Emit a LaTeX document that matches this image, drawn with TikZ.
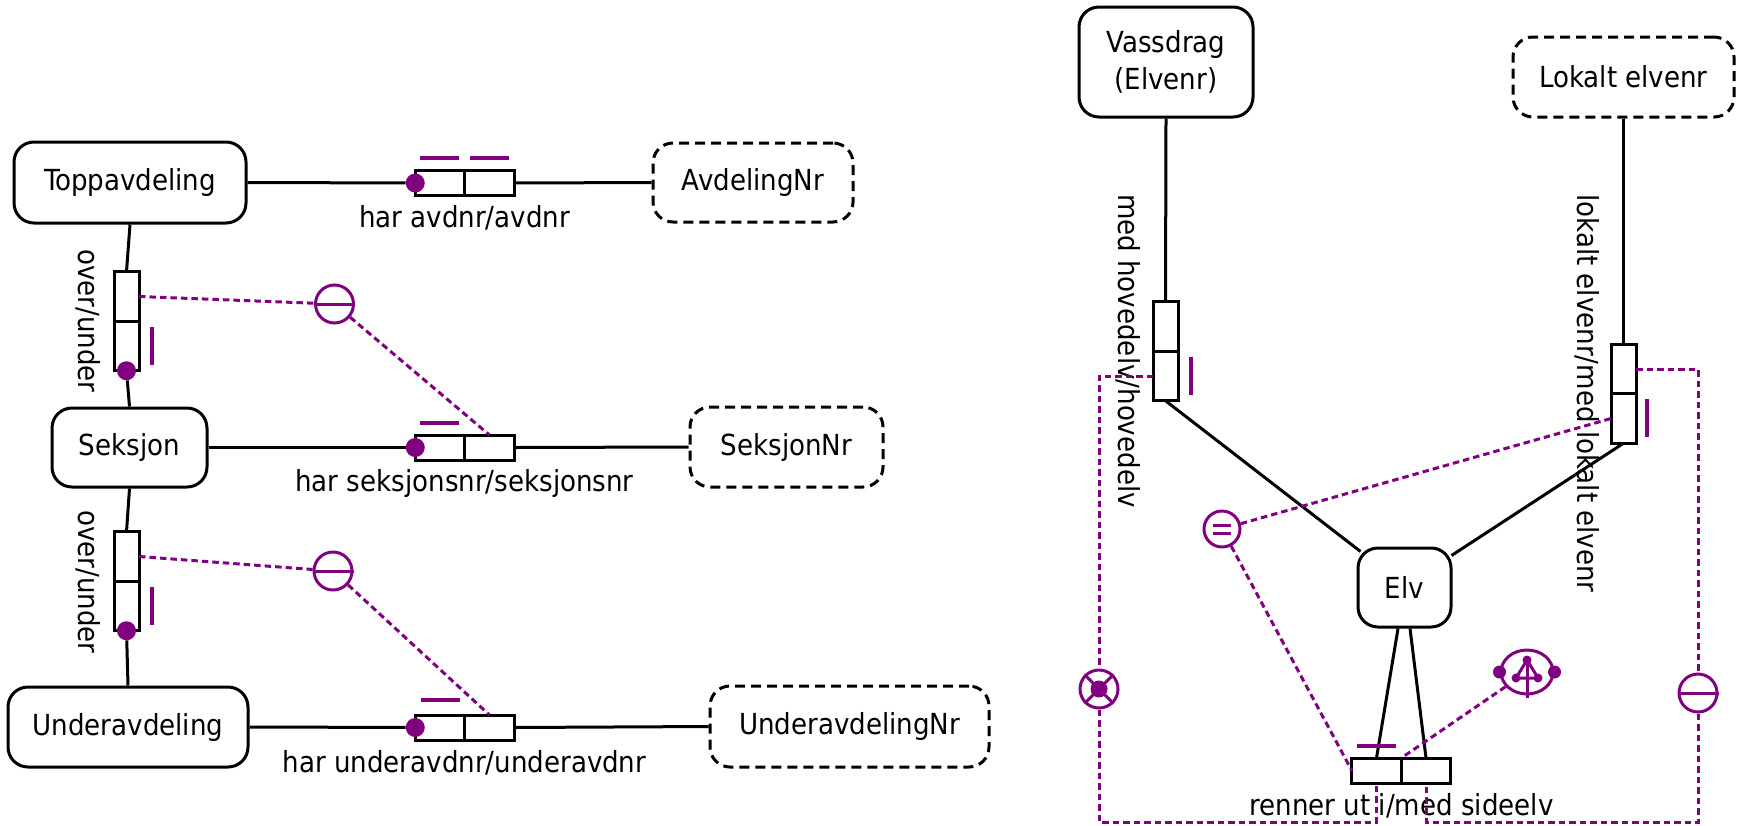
\documentclass[tikz,border=0pt]{standalone}
\usepackage{fontspec}
\setmainfont{DejaVu Sans Condensed}
\usetikzlibrary{shapes.geometric}
\definecolor{orm}{RGB}{128,0,128}
\begin{document}
\begin{tikzpicture}[x=1pt,y=-1pt,
  every node/.style={font=\fontsize{29}{37}\selectfont},
  ent/.style={draw, line width=3pt, rounded corners=20pt, inner sep=0pt, align=center},
  vent/.style={ent, dash pattern=on 10pt off 6pt},
  hcell/.style={draw, line width=3pt, minimum width=49.5pt, minimum height=25pt, inner sep=0pt, outer sep=0pt},
  vcell/.style={draw, line width=3pt, minimum width=25pt, minimum height=49.5pt, inner sep=0pt, outer sep=0pt},
  link/.style={line width=3pt},
  cdash/.style={draw=orm, line width=3pt, dash pattern=on 6.5pt off 4pt},
  dot/.style={circle, fill=orm, minimum size=19pt, inner sep=0pt},
  ubar/.style={draw=orm, line width=4.5pt},
  cons/.style={circle, draw=orm, line width=3pt, minimum size=38pt, inner sep=0pt},
  csym/.style={draw=orm, line width=3pt},
  lbl/.style={inner sep=0pt}]
\useasboundingbox (0,0) rectangle (1744,825);

% ---------- left part: entities ----------
\node[ent, minimum width=232pt, minimum height=81pt] (top) at (130,182.5) {Toppavdeling};
\node[ent, minimum width=155pt, minimum height=79pt] (seks) at (129.5,447.5) {Seksjon};
\node[ent, minimum width=240pt, minimum height=80pt] (under) at (128,727) {Underavdeling};
\node[vent, minimum width=200pt, minimum height=79pt] (avdnr) at (753,182.5) {AvdelingNr};
\node[vent, minimum width=193pt, minimum height=80pt] (seknr) at (786.5,447) {SeksjonNr};
\node[vent, minimum width=279pt, minimum height=81pt] (undnr) at (849.5,726.5) {UnderavdelingNr};

% horizontal role boxes
\node[hcell] (r1a) at (440,183) {};
\node[hcell] (r1b) at (489.5,183) {};
\node[hcell] (r2a) at (440,447.5) {};
\node[hcell] (r2b) at (489.5,447.5) {};
\node[hcell] (r3a) at (440,727.5) {};
\node[hcell] (r3b) at (489.5,727.5) {};
\node[dot] (d1) at (r1a.west) {};
\node[dot] (d2) at (r2a.west) {};
\node[dot] (d3) at (r3a.west) {};
\node[lbl] (l1) at (464.5,218) {har avdnr/avdnr};
\node[lbl] (l2) at (464.5,483) {har seksjonsnr/seksjonsnr};
\node[lbl] (l3) at (464.5,763) {har underavdnr/underavdnr};

% vertical role boxes
\node[vcell] (v1a) at (126.5,296.5) {};
\node[vcell] (v1b) at (126.5,346) {};
\node[vcell] (v2a) at (126.5,556.5) {};
\node[vcell] (v2b) at (126.5,606) {};
\node[dot] (d4) at (v1b.south) {};
\node[dot] (d5) at (v2b.south) {};
\node[lbl, rotate=-90] (l4) at (88,321) {over/under};
\node[lbl, rotate=-90] (l5) at (88,582) {over/under};

% links
\draw[link] (top.east) -- (d1);
\draw[link] (r1b.east) -- (avdnr.west);
\draw[link] (seks.east) -- (d2);
\draw[link] (r2b.east) -- (seknr.west);
\draw[link] (under.east) -- (d3);
\draw[link] (r3b.east) -- (undnr.west);
\draw[link] (top.south) -- (v1a.north);
\draw[link] (d4) -- (seks.north);
\draw[link] (seks.south) -- (v2a.north);
\draw[link] (d5) -- (under.north);

% uniqueness bars
\draw[ubar] (420,158) -- (459,158);
\draw[ubar] (470,158) -- (509,158);
\draw[ubar] (420,423) -- (459,423);
\draw[ubar] (421,700) -- (460,700);
\draw[ubar] (152,327) -- (152,365);
\draw[ubar] (152,587) -- (152,625);

% exclusion constraints
\node[cons] (c1) at (334.5,304) {};
\draw[csym] (c1.west) -- (c1.east);
\node[cons] (c2) at (333,571) {};
\draw[csym] (c2.west) -- (c2.east);
\draw[cdash] (v1a.east) -- (c1);
\draw[cdash] (c1) -- (r2b.north);
\draw[cdash] (v2a.east) -- (c2);
\draw[cdash] (c2) -- (r3b.north);

% ---------- right part ----------
\node[ent, minimum width=174pt, minimum height=110pt] (vass) at (1166,62) {Vassdrag\\(Elvenr)};
\node[vent, minimum width=221pt, minimum height=80pt] (lok) at (1623.5,77) {Lokalt elvenr};
\node[ent, minimum width=93pt, minimum height=79pt] (elv) at (1404.5,587.5) {Elv};

\node[vcell] (vva) at (1165.5,326.5) {};
\node[vcell] (vvb) at (1165.5,376) {};
\node[vcell] (vla) at (1623.5,369) {};
\node[vcell] (vlb) at (1623.5,418.5) {};
\node[hcell] (rba) at (1376.5,770.5) {};
\node[hcell] (rbb) at (1426,770.5) {};

\node[lbl, rotate=-90] (l6) at (1128,351) {med hovedelv/hovedelv};
\node[lbl, rotate=-90] (l7) at (1587,393.5) {lokalt elvenr/med lokalt elvenr};
\node[lbl] (l8) at (1401.5,806) {renner ut i/med sideelv};

\draw[link] (vass.south) -- (vva.north);
\draw[link] (lok.south) -- (vla.north);
\draw[link] (vvb.south) -- ([shift={(4pt,-5pt)}]elv.north west);
\draw[link] (vlb.south) -- ([shift={(-1pt,-9pt)}]elv.north east);
\draw[link] ([xshift=-6.5pt]elv.south) -- (rba.north);
\draw[link] ([xshift=5.5pt]elv.south) -- (rbb.north);

\draw[ubar] (1191,357) -- (1191,395);
\draw[ubar] (1647,399) -- (1647,437);
\draw[ubar] (1357,746) -- (1396,746);

% equality constraint
\node[cons, minimum size=36pt] (eq) at (1222,529) {};
\draw[orm, line width=3pt] (1213,525) -- (1231,525);
\draw[orm, line width=3pt] (1213,533) -- (1231,533);
\draw[cdash] (eq) -- (vlb.west);
\draw[cdash] (eq) -- (rba.west);

% exclusive-or constraint
\node[cons] (xor) at (1099,689) {};
\draw[csym] (xor.45) -- (xor.225);
\draw[csym] (xor.135) -- (xor.-45);
\fill[orm] (xor.center) circle (8.5);

% exclusion on the right
\node[cons] (c3) at (1698,693) {};
\draw[csym] (c3.west) -- (c3.east);

% ring constraint
\node[ellipse, draw=orm, line width=3pt, minimum width=52pt, minimum height=44pt, inner sep=0pt] (ring) at (1527,672) {};
\fill[orm] (ring.west) circle (6.5);
\fill[orm] (ring.east) circle (6.5);
\draw[orm, line width=3pt] (1527,660) -- (1516,678) -- (1538,678) -- cycle;
\draw[orm, line width=3pt] (1527,660) -- (1527,698);
\fill[orm] (1527,660) circle (4.5);
\fill[orm] (1516,678) circle (4.5);
\fill[orm] (1538,678) circle (4.5);
\draw[cdash] (ring) -- (rba.north east);

% subset frames
\coordinate (fl) at (1099,822);
\coordinate (fr) at (1698,822);
\draw[cdash] (vvb.west) -| (xor.north);
\draw[cdash] (xor.south) -- (fl) -| (rba.south);
\draw[cdash] (vla.east) -| (c3.north);
\draw[cdash] (c3.south) -- (fr) -| (rbb.south);
\end{tikzpicture}
\end{document}
